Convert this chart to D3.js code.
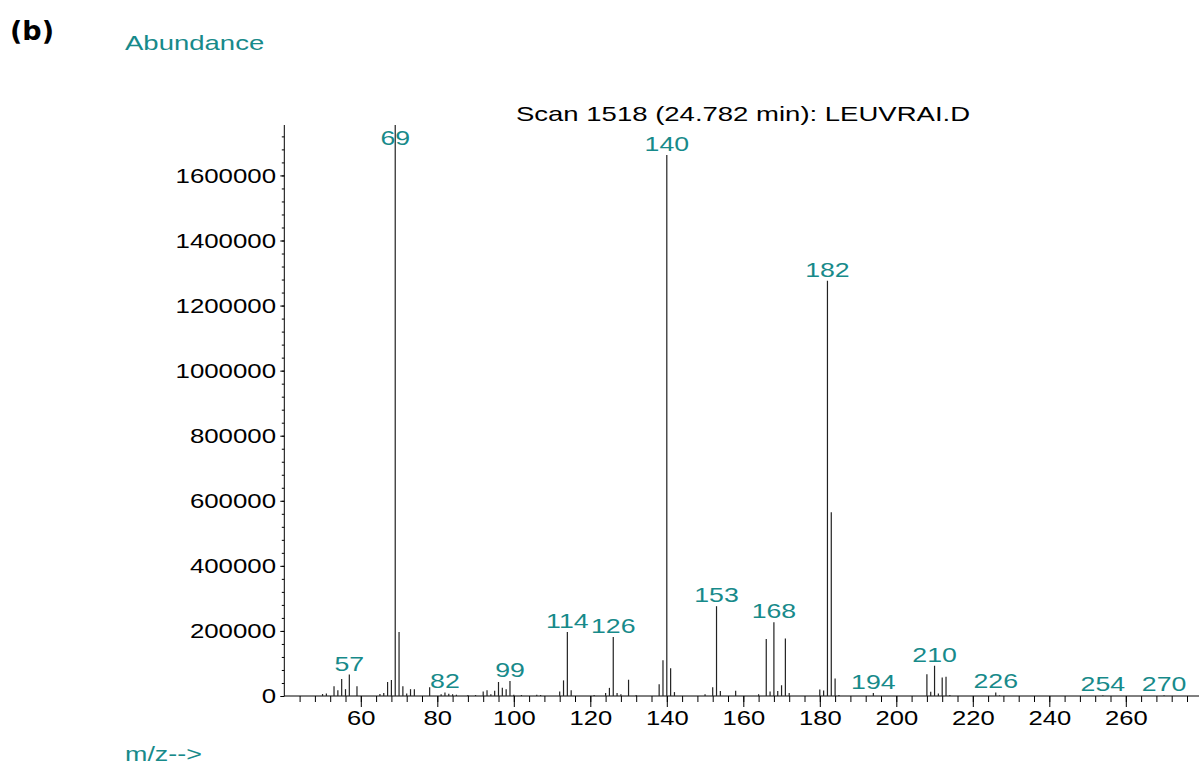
<!DOCTYPE html>
<html>
<head>
<meta charset="utf-8">
<script src="https://cdn.jsdelivr.net/npm/d3@7"></script>
<style>
  body { margin: 0; background: #fff; }
  svg { display: block; }
  text { font-family: "Liberation Sans", Arial, sans-serif; }
</style>
</head>
<body>
<div id="chart"></div>
<script>
// m/z and abundance
const mz = [50, 51, 53, 54, 55, 56, 57, 59, 65, 66, 67, 68, 69, 70, 71, 72, 73, 74, 78, 81, 82, 83, 84, 85,
  88, 90, 92, 93, 94, 95, 96, 97, 98, 99, 100, 102, 106, 107, 112, 113, 114, 115, 121, 124, 125, 126, 127, 128,
  130, 132, 138, 139, 140, 141, 142, 150, 152, 153, 154, 158, 164, 166, 167, 168, 169, 170, 171, 172,
  180, 181, 182, 183, 184, 185, 194, 208, 209, 210, 211, 212, 213, 214, 226, 227, 254, 270]
const abundance = [6000, 8000, 30000, 18000, 52000, 21000, 66000, 30000, 6000, 9000, 43000, 49000, 1755000, 197000, 30000, 8000, 21000, 21000, 27000, 5000, 11000, 7000, 5000, 4000,
  3000, 3000, 14000, 18000, 5000, 16000, 43000, 25000, 21000, 46000, 4000, 3000, 4000, 3000, 14000, 48000, 197000, 18000, 3000, 9000, 25000, 181000, 9000, 5000,
  50000, 3000, 36000, 110000, 1663000, 85000, 12000, 5000, 27000, 276000, 15000, 16000, 5000, 175000, 14000, 227000, 15000, 33000, 177000, 9000,
  20000, 17000, 1276000, 565000, 54000, 3000, 9000, 67000, 13000, 93000, 8000, 57000, 59000, 3000, 11000, 2000, 2000, 2000]
const labelled = [57, 69, 82, 99, 114, 126, 140, 153, 168, 182, 194, 210, 226, 254, 270]
const yTicks = [0, 200000, 400000, 600000, 800000, 1000000, 1200000, 1400000, 1600000]
const xTicks = [60, 80, 100, 120, 140, 160, 180, 200, 220, 240, 260]

const W = 1199, H = 766
const teal = "#178a8a"
const fs = 21

const svg = d3.select("#chart").append("svg")
    .attr("width", W)
    .attr("height", H)

const x = d3.scaleLinear().domain([40, 280]).range([284.3, 1202.3])
const y = d3.scaleLinear().domain([0, 1755000]).range([696, 125])

// the original lettering is wide, so squash it out sideways
function stretch(sel, sx) {
    sel.each(function () {
        const t = d3.select(this)
        const tx = +t.attr("x") || 0
        t.attr("x", tx / sx).attr("transform", "scale(" + sx + ",1)")
    })
}

function label(px, py, txt, sx) {
    return svg.append("text")
        .attr("transform", "translate(" + px + "," + py + ") scale(" + sx + ",1)")
        .attr("font-size", fs)
        .text(txt)
}

// minor ticks
svg.append("g")
    .attr("transform", "translate(" + x(40) + ",0)")
    .call(d3.axisLeft(y).tickValues(d3.range(0, 1755000, 40000)).tickSize(2.5).tickFormat(""))
    .call(g => g.select(".domain").remove())
svg.append("g")
    .attr("transform", "translate(0," + y(0) + ")")
    .call(d3.axisBottom(x).tickValues(d3.range(44, 280, 4)).tickSize(6).tickFormat(""))
    .call(g => g.select(".domain").remove())

const yAxis = svg.append("g")
    .attr("transform", "translate(" + x(40) + ",0)")
    .call(d3.axisLeft(y).tickValues(yTicks).tickSize(4).tickPadding(4.3).tickFormat(d3.format("d")))
yAxis.select(".domain").remove()
yAxis.selectAll("text").attr("font-size", fs).attr("fill", "#000").attr("font-family", "Liberation Sans, Arial, sans-serif")
stretch(yAxis.selectAll("text"), 1.23)

const xAxis = svg.append("g")
    .attr("transform", "translate(0," + y(0) + ")")
    .call(d3.axisBottom(x).tickValues(xTicks).tickSize(11).tickPadding(3))
xAxis.select(".domain").remove()
xAxis.selectAll("text").attr("font-size", fs).attr("fill", "#000").attr("font-family", "Liberation Sans, Arial, sans-serif")
stretch(xAxis.selectAll("text"), 1.22)

// axis lines
svg.append("line")
    .attr("x1", x(40)).attr("x2", x(40))
    .attr("y1", y(0)).attr("y2", y(1755000))
    .attr("stroke", "#000")
svg.append("line")
    .attr("x1", x(40)).attr("x2", W)
    .attr("y1", y(0)).attr("y2", y(0))
    .attr("stroke", "#000")

// peaks
const peaks = mz.map((m, i) => ({ mz: m, v: abundance[i] }))
svg.selectAll(".peak")
    .data(peaks)
    .enter().append("line")
    .attr("class", "peak")
    .attr("x1", d => x(d.mz)).attr("x2", d => x(d.mz))
    .attr("y1", y(0)).attr("y2", d => y(d.v))
    .attr("stroke", "#222")
    .attr("stroke-width", 1.2)

svg.selectAll(".plab")
    .data(peaks.filter(d => labelled.includes(d.mz)))
    .enter().append("text")
    .attr("class", "plab")
    .attr("transform", d => "translate(" + x(d.mz) + "," + Math.max(y(d.v) - 4, 145) + ") scale(1.27,1)")
    .attr("text-anchor", "middle")
    .attr("font-size", fs)
    .attr("fill", teal)
    .text(d => d.mz)

label(743, 121, "Scan 1518 (24.782 min): LEUVRAI.D", 1.31)
    .attr("text-anchor", "middle")

label(125, 50, "Abundance", 1.31)
    .attr("fill", teal)

label(125, 761, "m/z-->", 1.28)
    .attr("fill", teal)

svg.append("text")
    .attr("x", 10).attr("y", 40)
    .attr("font-size", 27)
    .attr("font-weight", "bold")
    .style("font-family", "DejaVu Sans, Verdana, sans-serif")
    .text("(b)")
</script>
</body>
</html>
